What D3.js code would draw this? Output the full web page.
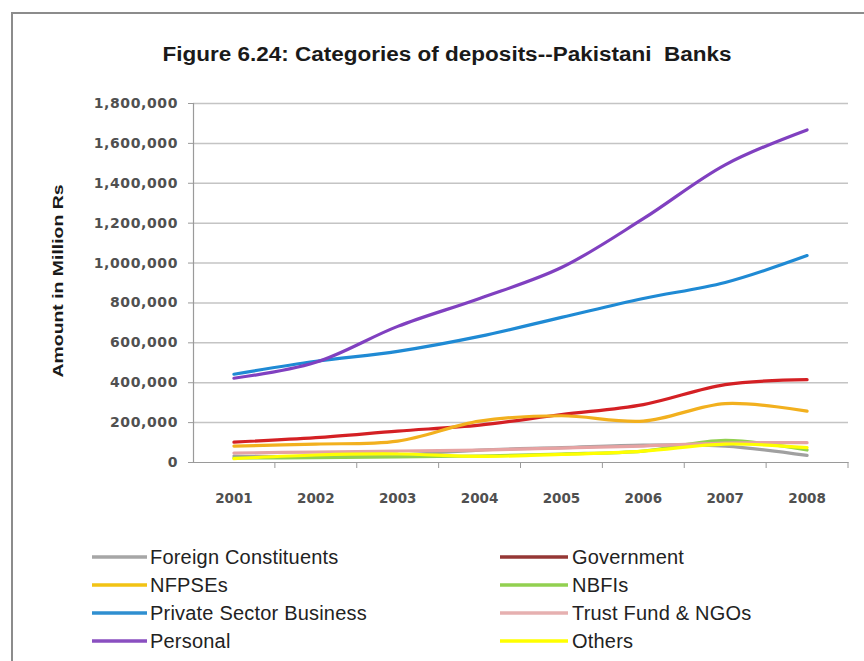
<!DOCTYPE html>
<html>
<head>
<meta charset="utf-8">
<script src="https://cdn.jsdelivr.net/npm/d3@7/dist/d3.min.js"></script>
<style>
  html, body { margin: 0; padding: 0; background: #fff; }
  svg { display: block; }
</style>
</head>
<body>
<svg id="chart" width="864" height="661"></svg>
<script>
// Deposits by category, Pakistani banks, in million Rs
const years = ["2001", "2002", "2003", "2004", "2005", "2006", "2007", "2008"];
const seriesNames = ["Foreign Constituents", "Government", "NFPSEs", "NBFIs",
  "Private Sector Business", "Trust Fund & NGOs", "Personal", "Others"];
const foreignConstituents = [30000, 25000, 35000, 60000, 72000, 85000, 80000, 33000];
const government = [100000, 122000, 155000, 185000, 238000, 288000, 388000, 413000];
const nfpses = [80000, 90000, 105000, 205000, 232000, 205000, 293000, 255000];
const nbfis = [20000, 22000, 25000, 30000, 40000, 55000, 108000, 60000];
const privateSector = [440000, 505000, 555000, 630000, 725000, 820000, 900000, 1035000];
const trustFund = [45000, 50000, 55000, 60000, 70000, 80000, 95000, 97000];
const personal = [420000, 500000, 680000, 820000, 975000, 1220000, 1490000, 1665000];
const others = [17000, 35000, 40000, 28000, 38000, 55000, 90000, 72000];
const yTicks = [0, 200000, 400000, 600000, 800000, 1000000, 1200000, 1400000, 1600000, 1800000];

const seriesValues = [foreignConstituents, government, nfpses, nbfis,
  privateSector, trustFund, personal, others];
const colors = ["#a0a0a0", "#d42024", "#f2b01e", "#92d050",
  "#1f8ad4", "#e6a3a3", "#8040c0", "#ffff00"];
const legendColors = ["#a6a6a6", "#953735", "#f2c314", "#92d050",
  "#2f8fd0", "#e6b0b0", "#8a4fc0", "#ffff00"];

const series = seriesNames.map((name, i) => ({
  name, color: colors[i], legendColor: legendColors[i],
  values: years.map((y, j) => ({ year: y, value: seriesValues[i][j] }))
}));

const svg = d3.select("#chart");
const font = "'Liberation Sans', Arial, sans-serif";
const tickFont = "'DejaVu Sans', sans-serif";

// outer frame
svg.append("rect")
  .attr("x", 12).attr("y", 13)
  .attr("width", 900).attr("height", 700)
  .attr("fill", "#fff").attr("stroke", "#8c8c8c").attr("stroke-width", 2);

const plot = { left: 193, right: 848, top: 103, bottom: 462 };

const x = d3.scaleBand().domain(years).range([plot.left, plot.right]);
const y = d3.scaleLinear().domain([0, 1800000]).range([plot.bottom, plot.top]);

// title
svg.append("text")
  .attr("x", 447).attr("y", 61)
  .attr("text-anchor", "middle")
  .attr("font-family", font).attr("font-weight", "bold")
  .attr("font-size", 20).attr("fill", "#1a1a1a")
  .attr("textLength", 569).attr("lengthAdjust", "spacingAndGlyphs")
  .style("white-space", "pre")
  .text("Figure 6.24: Categories of deposits--Pakistani  Banks");

// horizontal gridlines
svg.append("g")
  .attr("transform", `translate(${plot.left},0)`)
  .call(d3.axisLeft(y).tickValues(yTicks.slice(1)).tickSize(-(plot.right - plot.left)).tickFormat(""))
  .call(g => g.select(".domain").remove())
  .call(g => g.selectAll("line").attr("stroke", "#c4c4c4").attr("stroke-width", 1.5));

// y axis
svg.append("g")
  .attr("transform", `translate(${plot.left},0)`)
  .call(d3.axisLeft(y).tickValues(yTicks).tickSize(5).tickPadding(10).tickFormat(d3.format(",")))
  .call(g => g.select(".domain").attr("stroke", "#9a9a9a").attr("stroke-width", 1.2))
  .call(g => g.selectAll("line").attr("stroke", "#9a9a9a"))
  .call(g => g.selectAll("text")
    .attr("font-family", tickFont).attr("font-weight", "bold")
    .attr("font-size", 14).attr("fill", "#505050")
    .attr("letter-spacing", 0.6));

// x axis: labels centred in each band, ticks on band boundaries
const xAxis = svg.append("g")
  .attr("transform", `translate(0,${plot.bottom})`)
  .call(d3.axisBottom(x).tickSize(0).tickPadding(31))
  .call(g => g.select(".domain").attr("stroke", "#9a9a9a").attr("stroke-width", 1.2))
  .call(g => g.selectAll("text")
    .attr("font-family", tickFont).attr("font-weight", "bold")
    .attr("font-size", 13.5).attr("fill", "#505050"));
xAxis.selectAll(".boundary")
  .data(years.slice(1).concat(["end"]))
  .enter().append("line")
  .attr("x1", (d, i) => plot.left + x.step() * (i + 1))
  .attr("x2", (d, i) => plot.left + x.step() * (i + 1))
  .attr("y1", 0).attr("y2", 6)
  .attr("stroke", "#9a9a9a");

// y axis title
svg.append("text")
  .attr("transform", "translate(63,281) rotate(-90)")
  .attr("text-anchor", "middle")
  .attr("font-family", font).attr("font-weight", "bold")
  .attr("font-size", 15).attr("fill", "#1a1a1a")
  .attr("textLength", 193).attr("lengthAdjust", "spacingAndGlyphs")
  .text("Amount in Million Rs");

// series lines
const line = d3.line()
  .x(d => x(d.year) + x.bandwidth() / 2)
  .y(d => y(d.value))
  .curve(d3.curveCatmullRom.alpha(0.5));

svg.append("g").selectAll("path")
  .data(series)
  .enter().append("path")
  .attr("d", d => line(d.values))
  .attr("fill", "none")
  .attr("stroke", d => d.color)
  .attr("stroke-width", 3.2)
  .attr("stroke-linejoin", "round")
  .attr("stroke-linecap", "round");

// legend, two columns
const legend = svg.append("g");
const legendItems = legend.selectAll("g")
  .data(series)
  .enter().append("g")
  .attr("transform", (d, i) => `translate(${i % 2 === 0 ? 92 : 500},${557 + Math.floor(i / 2) * 28})`);
legendItems.append("line")
  .attr("x1", 0).attr("x2", (d, i) => i % 2 === 0 ? 55 : 68)
  .attr("y1", 0).attr("y2", 0)
  .attr("stroke", d => d.legendColor).attr("stroke-width", 3.5);
legendItems.append("text")
  .attr("x", (d, i) => i % 2 === 0 ? 58 : 72)
  .attr("y", 7)
  .attr("font-family", font)
  .attr("font-size", 20).attr("fill", "#222")
  .attr("letter-spacing", 0.2)
  .text(d => d.name);
</script>
</body>
</html>
